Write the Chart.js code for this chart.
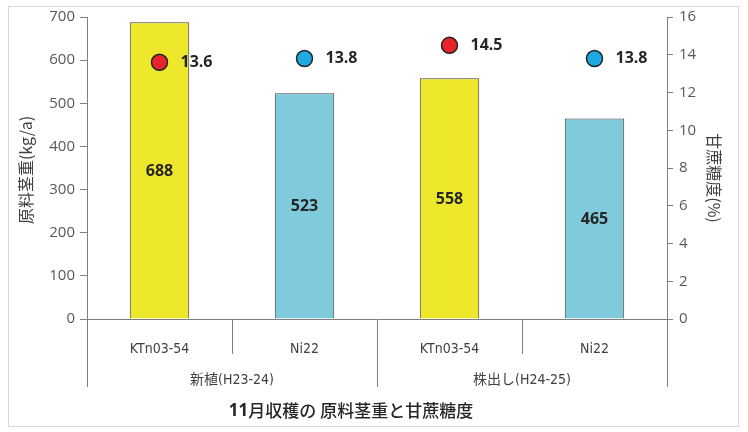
<!DOCTYPE html>
<html>
<head>
<meta charset="utf-8">
<script src="https://cdn.jsdelivr.net/npm/chart.js@4"></script>
<style>
html,body{margin:0;padding:0;background:#fff;}
#wrap{position:relative;width:748px;height:432px;}
#frame{position:absolute;left:8px;top:6px;width:731px;height:421px;border:1px solid #d9d9d9;box-sizing:border-box;}
canvas{position:absolute;left:0;top:0;}
</style>
</head>
<body>
<div id="wrap">
<div id="frame"></div>
<canvas id="sugarChart" width="748" height="432"></canvas>
</div>
<script>
// 品種・作型ごとの原料茎重と甘蔗糖度
const varieties = ["KTn03-54", "Ni22", "KTn03-54", "Ni22"];
const seasons = ["新植(H23-24)", "株出し(H24-25)"];
const stalkWeight = [688, 523, 558, 465];     // kg/a
const sugarContent = [13.6, 13.8, 14.5, 13.8]; // %
const barColors = ["#eee82c", "#7fcadb", "#eee82c", "#7fcadb"];
const dotColors = ["#e8232c", "#1ea9e1", "#e8232c", "#1ea9e1"];
const leftTicks = [0, 100, 200, 300, 400, 500, 600, 700];
const rightTicks = [0, 2, 4, 6, 8, 10, 12, 14, 16];

const jp = "'Noto Sans CJK JP', sans-serif";
const num = "'Open Sans', 'Noto Sans CJK JP', sans-serif";
const narrow = "'Liberation Sans Narrow', 'DejaVu Sans Condensed', 'Noto Sans CJK JP', sans-serif";

// ラベル、区切り線、タイトルなどを描く
const extras = {
  id: "extras",
  afterDatasetsDraw(chart) {
    const ctx = chart.ctx;
    const x = chart.scales.x;
    const y = chart.scales.y;
    const area = chart.chartArea;
    ctx.save();

    // 棒の中の数値
    ctx.font = "bold 16px " + num;
    ctx.fillStyle = "#262626";
    ctx.textAlign = "center";
    ctx.textBaseline = "middle";
    chart.getDatasetMeta(1).data.forEach((bar, i) => {
      ctx.fillText(stalkWeight[i], bar.x, (bar.y + bar.base) / 2 + 1);
    });

    // 糖度の数値
    ctx.textAlign = "left";
    chart.getDatasetMeta(0).data.forEach((pt, i) => {
      ctx.fillText(sugarContent[i].toFixed(1), pt.x + 21, pt.y);
    });

    // 横軸の区切り線
    const half = (x.getPixelForValue(1) - x.getPixelForValue(0)) / 2;
    ctx.strokeStyle = "#7f7f7f";
    ctx.lineWidth = 1;
    for (let i = 0; i <= varieties.length; i++) {
      const px = Math.round(i < varieties.length ? x.getPixelForValue(i) - half : x.getPixelForValue(i - 1) + half) + 0.5;
      const bottom = (i % 2 === 0) ? 387 : 354;
      ctx.beginPath();
      ctx.moveTo(px, area.bottom);
      ctx.lineTo(px, bottom);
      ctx.stroke();
    }
    // ゼロの線
    ctx.beginPath();
    ctx.moveTo(area.left - 7, Math.round(y.getPixelForValue(0)) + 0.5);
    ctx.lineTo(area.right + 6, Math.round(y.getPixelForValue(0)) + 0.5);
    ctx.stroke();

    // 作型
    ctx.font = "14px " + narrow;
    ctx.fillStyle = "#404040";
    ctx.textAlign = "center";
    seasons.forEach((s, k) => {
      const cx = (x.getPixelForValue(k * 2) + x.getPixelForValue(k * 2 + 1)) / 2;
      ctx.fillText(s, cx, 380);
    });

    // 軸タイトル
    ctx.font = "16px " + jp;
    ctx.fillStyle = "#404040";
    ctx.save();
    ctx.translate(26, 170);
    ctx.rotate(-Math.PI / 2);
    ctx.fillText("原料茎重(kg/a)", 0, 0);
    ctx.restore();
    ctx.save();
    ctx.translate(714, 178);
    ctx.rotate(Math.PI / 2);
    ctx.fillText("甘蔗糖度(%)", 0, 0);
    ctx.restore();

    // 図のタイトル
    ctx.fillStyle = "#262626";
    ctx.textAlign = "left";
    ctx.font = "bold 17px " + num;
    const a = "11";
    const b = "月収穫の 原料茎重と甘蔗糖度";
    const wa = ctx.measureText(a).width;
    ctx.font = "500 17px " + jp;
    const wb = ctx.measureText(b).width;
    const sx = 351 - (wa + wb) / 2;
    ctx.font = "bold 17px " + num;
    ctx.fillText(a, sx, 411);
    ctx.font = "500 17px " + jp;
    ctx.fillText(b, sx + wa, 411);
    ctx.restore();
  }
};

new Chart(document.getElementById("sugarChart"), {
  type: "bar",
  data: {
    labels: varieties,
    datasets: [{
      type: "line",
      data: sugarContent,
      yAxisID: "y1",
      showLine: false,
      pointRadius: 8,
      pointBackgroundColor: dotColors,
      pointBorderColor: "#222",
      pointBorderWidth: 1.5,
      order: 0
    }, {
      data: stalkWeight,
      yAxisID: "y",
      backgroundColor: barColors,
      borderColor: "#404040",
      borderWidth: 1,
      categoryPercentage: 1,
      barPercentage: 0.41,
      order: 1
    }]
  },
  options: {
    responsive: false,
    animation: false,
    layout: { padding: { top: 17, left: 0, right: 0, bottom: 0 } },
    plugins: { legend: { display: false }, tooltip: { enabled: false } },
    scales: {
      x: {
        grid: { display: false },
        border: { display: false },
        ticks: {
          color: "#404040",
          font: { family: narrow, size: 14 },
          padding: 14
        },
        afterFit(s) { s.height = 113; }
      },
      y: {
        position: "left",
        min: 0, max: 700,
        afterBuildTicks(s) { s.ticks = leftTicks.map(v => ({ value: v })); },
        grid: { drawOnChartArea: false, tickLength: 7, color: "#7f7f7f" },
        border: { color: "#7f7f7f" },
        ticks: { color: "#595959", font: { family: num, size: 15 }, padding: 5 },
        afterFit(s) { s.width = 87; }
      },
      y1: {
        position: "right",
        min: 0, max: 16,
        afterBuildTicks(s) { s.ticks = rightTicks.map(v => ({ value: v })); },
        grid: { drawOnChartArea: false, tickLength: 6, color: "#7f7f7f" },
        border: { color: "#7f7f7f" },
        ticks: { color: "#595959", font: { family: num, size: 15 }, padding: 6 },
        afterFit(s) { s.width = 81; }
      }
    }
  },
  plugins: [extras]
});
</script>
</body>
</html>
